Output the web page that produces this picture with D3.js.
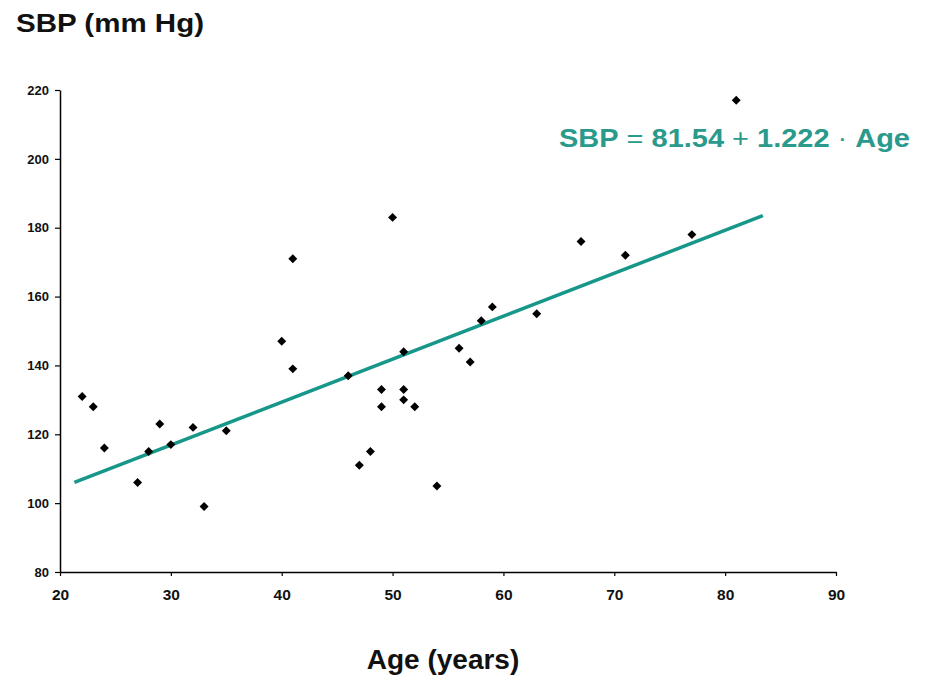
<!DOCTYPE html>
<html>
<head>
<meta charset="utf-8">
<script src="https://cdn.jsdelivr.net/npm/d3@7"></script>
<style>
  body { margin: 0; background: #fff; }
  text { font-family: "Liberation Sans", Arial, sans-serif; }
</style>
</head>
<body>
<div id="chart"></div>
<script>
// ages (years) and systolic blood pressure (mm Hg)
const age = [22, 23, 24, 27, 28, 29, 30, 32, 33, 35, 40, 41, 41, 46, 47, 48, 49, 49, 50,
             51, 51, 51, 52, 54, 56, 57, 58, 59, 63, 67, 71, 77, 81];
const sbp = [131, 128, 116, 106, 115, 123, 117, 122, 99, 121, 147, 139, 171, 137, 111, 115, 133, 128, 183,
             144, 133, 130, 128, 105, 145, 141, 153, 157, 155, 176, 172, 178, 217];

// fitted line as drawn (start / end)
const fitAge = [21.3, 83.4];
const fitSbp = [106, 183.5];

const xTicks = [20, 30, 40, 50, 60, 70, 80, 90];
const yTicks = [80, 100, 120, 140, 160, 180, 200, 220];

const width = 927, height = 677;
const margin = {top: 90, right: 91, bottom: 105, left: 60};

const svg = d3.select("#chart")
  .append("svg")
  .attr("width", width)
  .attr("height", height);

const xScale = d3.scaleLinear()
  .domain([20, 90])
  .range([margin.left, width - margin.right]);
const yScale = d3.scaleLinear()
  .domain([80, 220])
  .range([height - margin.bottom, margin.top]);

// axes
const xAxis = svg.append("g")
  .attr("transform", "translate(0," + yScale(80) + ")")
  .call(d3.axisBottom(xScale).tickValues(xTicks).tickSize(4).tickSizeOuter(0).tickPadding(13));
const yAxis = svg.append("g")
  .attr("transform", "translate(" + xScale(20) + ",0)")
  .call(d3.axisLeft(yScale).tickValues(yTicks).tickSize(5).tickSizeOuter(0).tickPadding(6));

[xAxis, yAxis].forEach(function (ax) {
  ax.select(".domain").attr("stroke", "#000").attr("stroke-width", 1.5);
  ax.selectAll(".tick line").attr("stroke", "#000").attr("stroke-width", 1.2);
  ax.selectAll(".tick text")
    .attr("fill", "#111")
    .attr("font-weight", "bold")
    .style("font-family", "'Liberation Sans Narrow', 'Liberation Sans', Arial, sans-serif");
});
xAxis.selectAll(".tick text").attr("font-size", 15.5);
yAxis.selectAll(".tick text").attr("font-size", 13);

// regression line
const line = d3.line()
  .x(function (d) { return xScale(d[0]); })
  .y(function (d) { return yScale(d[1]); });

svg.append("path")
  .datum(d3.zip(fitAge, fitSbp))
  .attr("d", line)
  .attr("fill", "none")
  .attr("stroke", "#17968a")
  .attr("stroke-width", 3.5);

// points (diamonds)
const diamond = d3.symbol().type(d3.symbolSquare).size(40);
svg.selectAll("path.dot")
    .data(d3.zip(age, sbp))
  .enter().append("path")
    .attr("class", "dot")
    .attr("d", diamond)
    .attr("fill", "#000")
    .attr("transform", function (d) {
      return "translate(" + xScale(d[0]) + "," + yScale(d[1]) + ") rotate(45)";
    });

// titles
svg.append("text")
  .attr("x", 16)
  .attr("y", 32)
  .attr("font-size", 26)
  .attr("font-weight", "bold")
  .attr("fill", "#111")
  .attr("textLength", 188)
  .attr("lengthAdjust", "spacingAndGlyphs")
  .text("SBP (mm Hg)");

svg.append("text")
  .attr("x", 443)
  .attr("y", 669)
  .attr("text-anchor", "middle")
  .attr("font-size", 28)
  .attr("font-weight", "bold")
  .attr("fill", "#111")
  .text("Age (years)");

// equation
const eq = svg.append("text")
  .attr("x", 559)
  .attr("y", 147)
  .attr("font-size", 25)
  .attr("fill", "#2a9a8c")
  .attr("textLength", 351)
  .attr("lengthAdjust", "spacingAndGlyphs");
eq.append("tspan").attr("font-weight", "bold").text("SBP");
eq.append("tspan").text(" = ");
eq.append("tspan").attr("font-weight", "bold").text("81.54");
eq.append("tspan").text(" + ");
eq.append("tspan").attr("font-weight", "bold").text("1.222");
eq.append("tspan").text(" · ");
eq.append("tspan").attr("font-weight", "bold").text("Age");
</script>
</body>
</html>
